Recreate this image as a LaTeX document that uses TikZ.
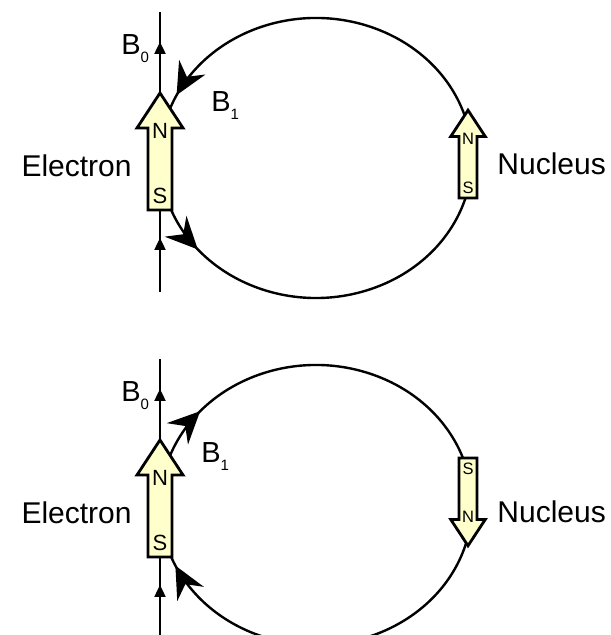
\documentclass[tikz,border=0pt]{standalone}
\usepackage{fontspec}
\setmainfont{Liberation Sans}
\usetikzlibrary{arrows.meta}
\usetikzlibrary{positioning}
\usetikzlibrary{decorations.markings}
\definecolor{poleyellow}{RGB}{255,255,204}
% bar magnet: name, tail point, rotation, scale
\newcommand{\magnet}[4]{%
  \begin{scope}[shift={#2},rotate=#3,scale=#4]
    \draw[magnetbody] (-12,0) -- (-12,82) -- (-23,82) -- (0,117) -- (23,82) -- (12,82) -- (12,0) -- cycle;
    \node(#1n)[pole,scale=#4] at (0,79) {N};
    \node(#1s)[pole,scale=#4] at (0,14) {S};
  \end{scope}}
\newcommand{\field}[1]{B\raisebox{-4pt}{\fontsize{7.5}{7.5}\selectfont #1}}

\begin{document}
\begin{tikzpicture}[
    x=0.5pt,y=0.5pt,
    every node/.style={inner sep=0pt,font=\fontsize{15}{15}\selectfont},
    flux/.style={font=\fontsize{14.5}{14.5}\selectfont},
    pole/.style={font=\fontsize{11}{11}\selectfont},
    magnetbody/.style={draw=black,line width=1.4pt,fill=poleyellow},
    zaxis/.style={line width=1.1pt,decoration={markings,
        mark=at position 0.193 with {\arrow{Triangle[length=6pt,width=5.5pt]}},
        mark=at position 0.893 with {\arrow{Triangle[length=6pt,width=5.5pt]}}},
        postaction={decorate}},
    fieldline/.style 2 args={line width=1.2pt,decoration={markings,
        mark=at position #1 with {\arrow{Stealth[length=16pt,width=15pt,inset=5.5pt]}},
        mark=at position #2 with {\arrow{Stealth[length=16pt,width=15pt,inset=5.5pt]}}},
        postaction={decorate}}
  ]
  \useasboundingbox (0,0) rectangle (610,635);

  % parallel case
  \coordinate (a1bot) at (160,343);
  \coordinate (a1top) at (160,623);
  \coordinate (c1) at (316,477);
  \draw[zaxis] (a1bot) -- (a1top);
  \draw[fieldline={0.06}{0.98}] ([shift={(-159:156 and 140)}]c1)
    arc[start angle=-159,end angle=160,x radius=156,y radius=140];
  \magnet{e1}{(160,425)}{0}{1}
  \magnet{n1}{(468,437)}{0}{0.75}
  \node(el1)[anchor=base east] at (132,458) {Electron};
  \node(nu1)[anchor=base west] at (497,460) {Nucleus};
  \node(b01)[flux,anchor=base west] at (121,580) {\field{0}};
  \node(b11)[flux,anchor=base west] at (211,523) {\field{1}};

  % antiparallel case
  \coordinate (a2bot) at (160,-4);
  \coordinate (a2top) at (160,276);
  \coordinate (c2) at (316,130);
  \draw[zaxis] (a2bot) -- (a2top);
  \draw[fieldline={0.067}{0.986}] ([shift={(160:156 and 140)}]c2)
    arc[start angle=160,end angle=-159,x radius=156,y radius=140];
  \magnet{e2}{(160,78)}{0}{1}
  \magnet{n2}{(468,177)}{180}{0.75}
  \node(el2)[anchor=base east] at (132,111) {Electron};
  \node(nu2)[anchor=base west] at (497,112) {Nucleus};
  \node(b02)[flux,anchor=base west] at (121,233) {\field{0}};
  \node(b12)[flux,anchor=base west] at (201,172) {\field{1}};
\end{tikzpicture}
\end{document}
